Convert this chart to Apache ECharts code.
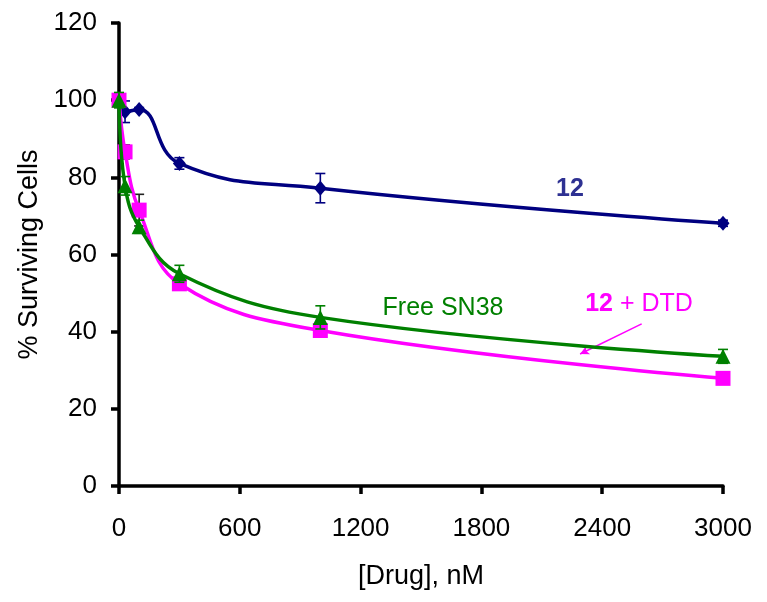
<!DOCTYPE html>
<html><head><meta charset="utf-8">
<script src="https://cdn.jsdelivr.net/npm/echarts@6/dist/echarts.min.js"></script>
<style>html,body{margin:0;padding:0;background:#fff}#c{width:767px;height:602px}</style>
</head><body><div id="c"></div>
<script>
// Concentrations (nM)
const conc = [0, 30, 100, 300, 1000, 3000];
// Compound 12 alone
const cmp12 = [100, 97.0, 97.6, 83.6, 77.2, 68.1];
const cmp12Err = [1.0, 2.8, 0.5, 1.5, 3.8, 0.8];
// Compound 12 + DTD
const cmp12DTD = [100, 86.6, 71.5, 52.4, 40.3, 27.9];
const cmp12DTDErr = [1.5, 1.8, 4.1, 0.8, 0.8, 0.6];
// Free SN38
const freeSN38 = [100, 77.8, 67.2, 55.0, 43.7, 33.6];
const freeSN38Err = [2.0, 2.4, 1.7, 2.2, 3.0, 1.8];

const yTicks = { min: 0, max: 120, interval: 20 };
const xTicks = { min: 0, max: 3000, interval: 600 };

const FONT = '"Liberation Sans", Arial, sans-serif';
const NAVY = '#000080', GREEN = '#008000', PINK = '#ff00ff';

function pairs(ys) { return conc.map((x, i) => [x, ys[i]]); }

function errSeries(name, ys, es, color, z) {
  return {
    type: 'custom', name: name, z: z, silent: true, clip: false,
    data: conc.map((x, i) => [x, ys[i] - es[i], ys[i] + es[i]]),
    renderItem: function (params, api) {
      const lo = api.coord([api.value(0), api.value(1)]);
      const hi = api.coord([api.value(0), api.value(2)]);
      const w = 5;
      const style = { stroke: color, lineWidth: 1.6, fill: null };
      return { type: 'group', children: [
        { type: 'line', shape: { x1: lo[0], y1: lo[1], x2: hi[0], y2: hi[1] }, style: style },
        { type: 'line', shape: { x1: lo[0] - w, y1: lo[1], x2: lo[0] + w, y2: lo[1] }, style: style },
        { type: 'line', shape: { x1: hi[0] - w, y1: hi[1], x2: hi[0] + w, y2: hi[1] }, style: style }
      ]};
    }
  };
}

const chart = echarts.init(document.getElementById('c'), null, { renderer: 'canvas' });
const axisCommon = {
  axisLine: { show: true, onZero: false, lineStyle: { color: '#000', width: 3.5 } },
  axisTick: { show: true, inside: false, length: 8, lineStyle: { color: '#000', width: 3.5 } },
  splitLine: { show: false },
  nameTextStyle: { fontFamily: FONT, fontSize: 27, color: '#000' },
  axisLabel: { fontFamily: FONT, fontSize: 26, color: '#000', formatter: function (v) { return String(v); } }
};

chart.setOption({
  animation: false,
  backgroundColor: '#fff',
  grid: { left: 119, right: 44, top: 23, bottom: 116, containLabel: false, outerBoundsMode: 'none' },
  xAxis: Object.assign({}, axisCommon, {
    type: 'value', min: xTicks.min, max: xTicks.max, interval: xTicks.interval,
    name: '[Drug], nM', nameLocation: 'middle', nameGap: 77,
    axisLabel: Object.assign({}, axisCommon.axisLabel, { margin: 30 })
  }),
  yAxis: Object.assign({}, axisCommon, {
    type: 'value', min: yTicks.min, max: yTicks.max, interval: yTicks.interval,
    name: '% Surviving Cells', nameLocation: 'middle', nameGap: 76, nameRotate: 90,
    axisLabel: Object.assign({}, axisCommon.axisLabel, { margin: 22 })
  }),
  series: [
    errSeries('12 err', cmp12, cmp12Err, NAVY, 1),
    {
      type: 'line', name: '12', z: 2, data: pairs(cmp12), smooth: 0.45,
      symbol: 'diamond', symbolSize: [13, 15],
      lineStyle: { color: NAVY, width: 3.5 }, itemStyle: { color: NAVY }
    },
    errSeries('12 + DTD err', cmp12DTD, cmp12DTDErr, '#222', 3),
    {
      type: 'line', name: '12 + DTD', z: 4, data: pairs(cmp12DTD), smooth: 0.4,
      symbol: 'rect', symbolSize: 15,
      lineStyle: { color: PINK, width: 3.5 }, itemStyle: { color: PINK },
      markLine: {
        silent: true, symbol: ['none', 'arrow'], symbolSize: [7, 9],
        lineStyle: { color: PINK, width: 1.5, type: 'solid' }, label: { show: false },
        data: [[{ coord: [2596, 42.0] }, { coord: [2290, 34.2] }]]
      }
    },
    errSeries('Free SN38 err', freeSN38, freeSN38Err, GREEN, 5),
    {
      type: 'line', name: 'Free SN38', z: 6, data: pairs(freeSN38), smooth: 0.4,
      symbol: 'triangle', symbolSize: 15,
      lineStyle: { color: GREEN, width: 3.5 }, itemStyle: { color: GREEN }
    }
  ],
  graphic: [
    { type: 'text', x: 570, y: 189, z: 100, style: { text: '12', fontFamily: FONT, fontSize: 25, fontWeight: 'bold', fill: '#2e3192', align: 'center', verticalAlign: 'middle' } },
    { type: 'text', x: 443, y: 308, z: 100, style: { text: 'Free SN38', fontFamily: FONT, fontSize: 25, fill: GREEN, align: 'center', verticalAlign: 'middle' } },
    { type: 'text', x: 639, y: 304, z: 100, style: { text: '{b|12} + DTD', fontFamily: FONT, fontSize: 25, fill: PINK, align: 'center', verticalAlign: 'middle',
        rich: { b: { fontFamily: FONT, fontSize: 25, fontWeight: 'bold', fill: PINK } } } }
  ]
});
</script>
</body></html>
